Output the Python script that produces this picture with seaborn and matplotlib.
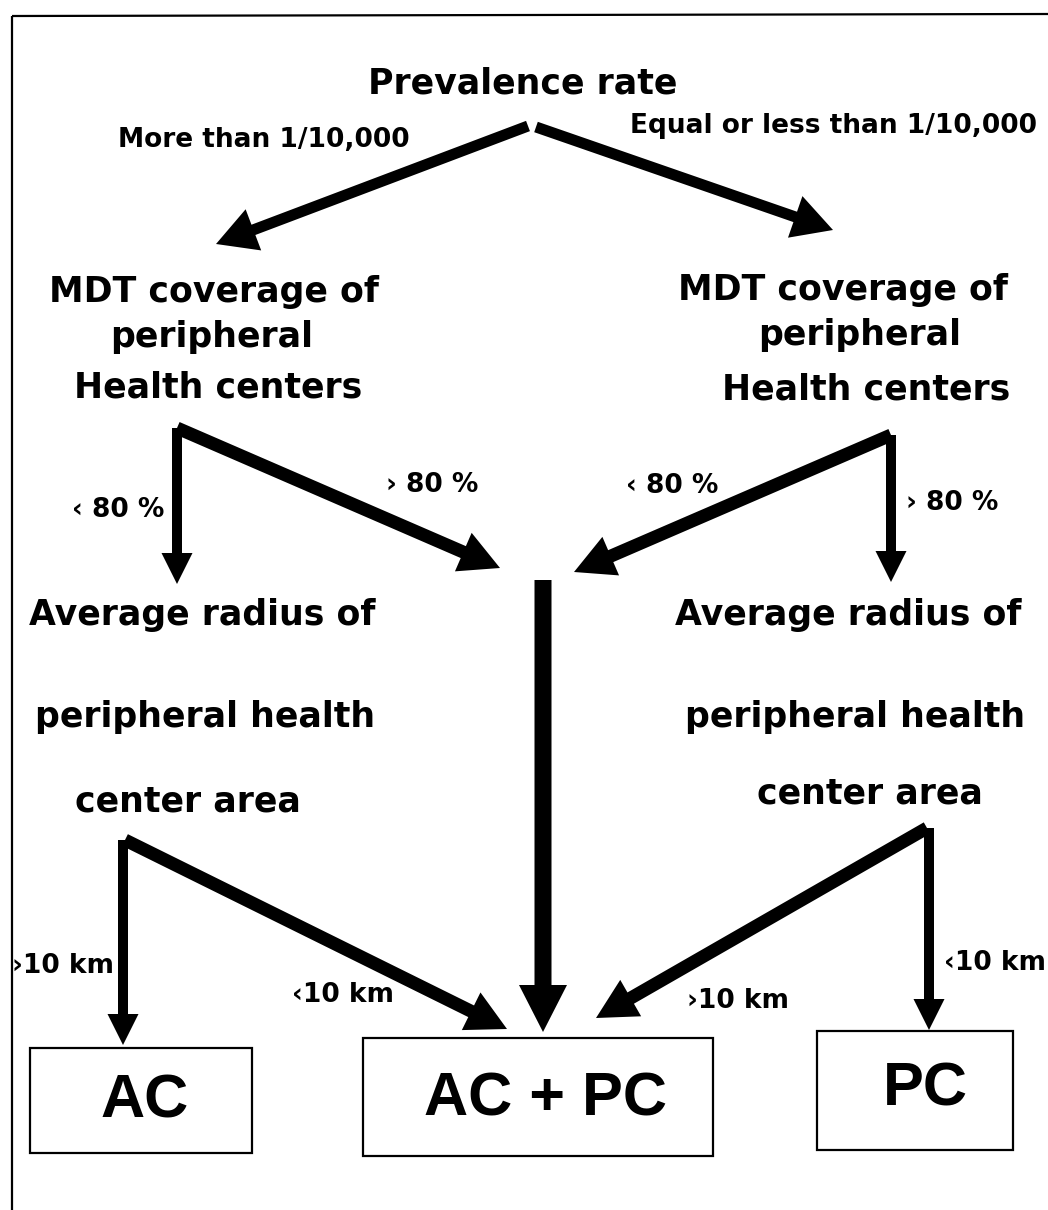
import matplotlib
matplotlib.use("Agg")
import matplotlib.pyplot as plt
from matplotlib.patches import Rectangle
import seaborn as sns

# ---------------- content ----------------
root_label = "Prevalence rate"
branch_labels = ["More than 1/10,000", "Equal or less than 1/10,000"]
mdt_lines_left = ["MDT coverage of", "peripheral", "Health centers"]
mdt_lines_right = ["MDT coverage of", "peripheral", "Health centers"]
coverage_labels = ["\u2039 80 %", "\u203a 80 %", "\u2039 80 %", "\u203a 80 %"]
radius_lines_left = ["Average radius of", "peripheral health", "center area"]
radius_lines_right = ["Average radius of", "peripheral health", "center area"]
distance_labels = ["\u203a10 km", "\u203910 km", "\u203a10 km", "\u203910 km"]
outcomes = ["AC", "AC + PC", "PC"]

# ---------------- layout (pixel space) ----------------
W, H = 1048, 1210
root_pos = (523, 94)
branch_pos = [(264, 147), (834, 133)]
mdt_left_pos = [(214, 302), (212, 347), (218, 398)]
mdt_right_pos = [(843, 300), (860, 345), (866, 400)]
coverage_pos = [(118, 517), (432, 492), (672, 493), (952, 510)]
radius_left_pos = [(202, 625), (205, 727), (188, 812)]
radius_right_pos = [(848, 625), (855, 727), (870, 803)]
distance_pos = [(63, 973), (343, 1002), (738, 1008), (995, 970)]
box_rects = [(30, 1048, 222, 105), (363, 1038, 350, 118), (817, 1031, 196, 119)]
outcome_pos = [(145, 1117), (546, 1115), (925, 1105)]

# arrows: (x0, y0, x1, y1, shaft width, head width, head length)
arrows = [
    (528, 126, 216, 244, 11, 44, 40),
    (536, 127, 833, 230, 11, 44, 40),
    (177, 428, 177, 584, 10, 31, 31),
    (177, 428, 500, 568, 13, 42, 40),
    (891, 435, 891, 582, 10, 31, 31),
    (891, 435, 574, 572, 13, 42, 40),
    (543, 580, 543, 1032, 17, 48, 47),
    (123, 840, 123, 1045, 10, 31, 31),
    (125, 840, 507, 1029, 13, 42, 40),
    (929, 828, 929, 1030, 10, 31, 31),
    (927, 828, 596, 1018, 13, 42, 40),
]

# ---------------- style ----------------
sns.set_theme(style="white")
plt.rcParams["font.family"] = ["DejaVu Sans"]

fig = plt.figure(figsize=(W / 100, H / 100), dpi=100)
ax = fig.add_axes([0, 0, 1, 1])
ax.set_xlim(0, W)
ax.set_ylim(H, 0)
ax.set_axis_off()

big = dict(fontsize=25, fontweight="bold", ha="center", va="baseline", color="black")
small = dict(fontsize=19, fontweight="bold", ha="center", va="baseline", color="black")

# frame
ax.plot([12, W], [16, 14], color="black", lw=1.6, solid_capstyle="butt")
ax.plot([12, 12], [16, H], color="black", lw=1.6, solid_capstyle="butt")

ax.text(*root_pos, root_label, **big)
for (x, y), t in zip(branch_pos, branch_labels):
    ax.text(x, y, t, **small)
for (x, y), t in zip(mdt_left_pos, mdt_lines_left):
    ax.text(x, y, t, **big)
for (x, y), t in zip(mdt_right_pos, mdt_lines_right):
    ax.text(x, y, t, **big)
for (x, y), t in zip(coverage_pos, coverage_labels):
    ax.text(x, y, t, **small)
for (x, y), t in zip(radius_left_pos, radius_lines_left):
    ax.text(x, y, t, **big)
for (x, y), t in zip(radius_right_pos, radius_lines_right):
    ax.text(x, y, t, **big)
for (x, y), t in zip(distance_pos, distance_labels):
    ax.text(x, y, t, **small)

for (x0, y0, x1, y1, w, hw, hl) in arrows:
    ax.arrow(x0, y0, x1 - x0, y1 - y0, width=w, head_width=hw, head_length=hl,
             length_includes_head=True, color="black", lw=0)

for (x, y, w, h) in box_rects:
    ax.add_patch(Rectangle((x, y), w, h, fill=False, edgecolor="black", lw=1.6))
for (x, y), t in zip(outcome_pos, outcomes):
    ax.text(x, y, t, fontsize=44, fontweight="bold",
            family=["Liberation Sans", "DejaVu Sans"],
            ha="center", va="baseline", color="black")

fig.savefig("out.png", dpi=100, facecolor="white")
